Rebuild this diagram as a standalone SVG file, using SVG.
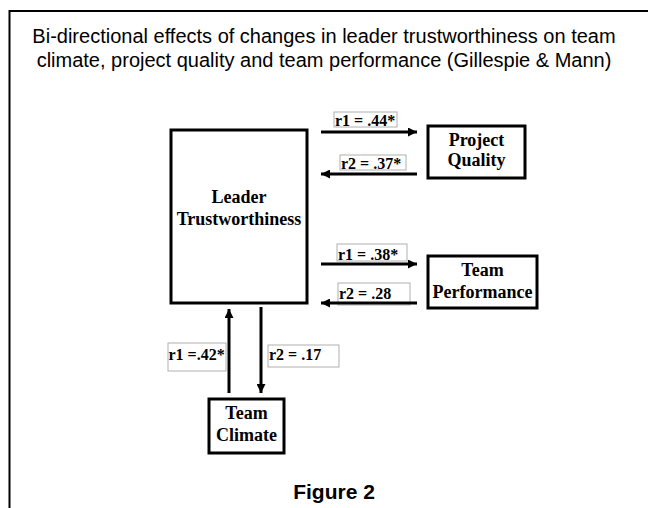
<svg xmlns="http://www.w3.org/2000/svg" width="648" height="508" viewBox="0 0 648 508">
<style>
.title{font-family:"Liberation Sans",Arial,sans-serif;font-size:20px;fill:#000;text-anchor:middle}
.fig{font-family:"Liberation Sans",Arial,sans-serif;font-size:21px;font-weight:bold;fill:#000;text-anchor:middle}
.node rect{fill:#fff;stroke:#000;stroke-width:3}
.node text{font-family:"Liberation Serif","Times New Roman",serif;font-size:18px;font-weight:bold;fill:#000;text-anchor:middle}
.lab rect{fill:#fff;stroke:#b0b0b0;stroke-width:1}
.lab text{font-family:"Liberation Serif","Times New Roman",serif;font-size:16px;font-weight:bold;fill:#000}
.conn line{stroke:#000;stroke-width:3}
</style>
<defs>
<marker id="ah" viewBox="0 0 10 10" refX="10" refY="5" markerWidth="3.6" markerHeight="3" markerUnits="strokeWidth" orient="auto">
<path d="M0,0 L10,5 L0,10 z" fill="#000"/>
</marker>
</defs>
<rect width="648" height="508" fill="#fff"/>
<rect x="9.5" y="11" width="660" height="520" fill="none" stroke="#000" stroke-width="2"/>
<text class="title" x="324" y="43">Bi-directional effects of changes in leader trustworthiness on team</text>
<text class="title" x="324" y="67">climate, project quality and team performance (Gillespie &amp; Mann)</text>
<text class="fig" x="334" y="499">Figure 2</text>

<g id="leader" class="node"><rect x="171" y="130" width="136" height="173"/><text x="239" y="203">Leader</text><text x="239" y="225">Trustworthiness</text></g>
<g id="project-quality" class="node"><rect x="428" y="126" width="97" height="52"/><text x="476.5" y="146">Project</text><text x="476.5" y="166">Quality</text></g>
<g id="team-performance" class="node"><rect x="428" y="256" width="109" height="52"/><text x="482.5" y="276">Team</text><text x="482.5" y="298">Performance</text></g>
<g id="team-climate" class="node"><rect x="209" y="399" width="75" height="54"/><text x="246.5" y="419">Team</text><text x="246.5" y="441">Climate</text></g>

<g id="connectors">
<g class="lab"><rect x="334" y="112" width="63" height="15"/><text x="335" y="126">r1 = .44*</text></g>
<g class="lab"><rect x="340" y="155" width="66" height="15"/><text x="341" y="169">r2 = .37*</text></g>
<g class="lab"><rect x="337" y="244" width="70" height="17"/><text x="338" y="260">r1 = .38*</text></g>
<g class="lab"><rect x="338" y="283" width="72" height="22"/><text x="339" y="299">r2 = .28</text></g>
<g class="lab"><rect x="168" y="343" width="58" height="28"/><text x="168.5" y="360">r1 =.42*</text></g>
<g class="lab"><rect x="268" y="345" width="71" height="22"/><text x="269" y="360">r2 = .17</text></g>
<g class="conn">
<line x1="321" y1="132" x2="417" y2="132" marker-end="url(#ah)"/>
<line x1="417" y1="174" x2="321" y2="174" marker-end="url(#ah)"/>
<line x1="321" y1="264" x2="417" y2="264" marker-end="url(#ah)"/>
<line x1="417" y1="303" x2="321" y2="303" marker-end="url(#ah)"/>
<line x1="229" y1="393" x2="229" y2="309" marker-end="url(#ah)"/>
<line x1="261" y1="307" x2="261" y2="393" marker-end="url(#ah)"/>
</g>
</g>
</svg>
